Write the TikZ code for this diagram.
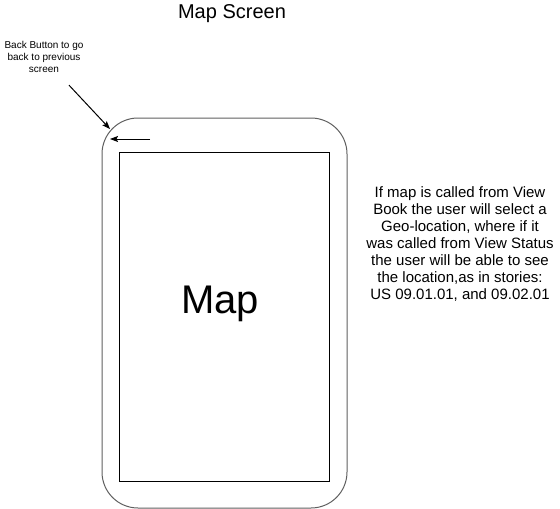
\documentclass[tikz,border=0pt]{standalone}
\usepackage{fontspec}
\setmainfont{Liberation Sans}
\usepackage{xcolor}
\usetikzlibrary{arrows.meta,positioning,calc}

\begin{document}
\begin{tikzpicture}[x=1pt, y=-1pt, line width=1pt,
  pointer/.style={-{Stealth[length=8pt,width=6pt,inset=1.5pt]}, black},
  note/.style={align=center, inner sep=0pt}]
\useasboundingbox (0,0) rectangle (560,509);

% Title
\node[note, font=\fontsize{20}{24}\selectfont] (title) at (232, 14) {Map Screen};

% Phone body and screen
\draw[gray!75!black, rounded corners=36pt] (102,118) rectangle (347,508);
\draw[black] (119,152) rectangle (329,481);
\node[inner sep=0pt, font=\fontsize{40}{48}\selectfont] (map) at (220, 304) {Map};

% Back button
\coordinate (backtail) at (150, 139);
\coordinate (backtip) at (110, 139);
\draw[pointer] (backtail) -- (backtip);

% Back button note
\node[note, font=\fontsize{10}{12}\selectfont] (backnote) at (44, 57)
  {Back Button to go\\back to previous\\screen};
\coordinate (cornertip) at (110, 129);
\draw[pointer] (backnote.south) ++(25, 12) coordinate (notetail) -- (cornertip);

% Side note
\node[note, font=\fontsize{15}{17}\selectfont] (sidenote) at (460, 244)
  {If map is called from View\\Book the user will select a\\Geo-location, where if it\\was called from View Status\\the user will be able to see\\the location,as in stories:\\US 09.01.01, and 09.02.01};

\end{tikzpicture}
\end{document}
